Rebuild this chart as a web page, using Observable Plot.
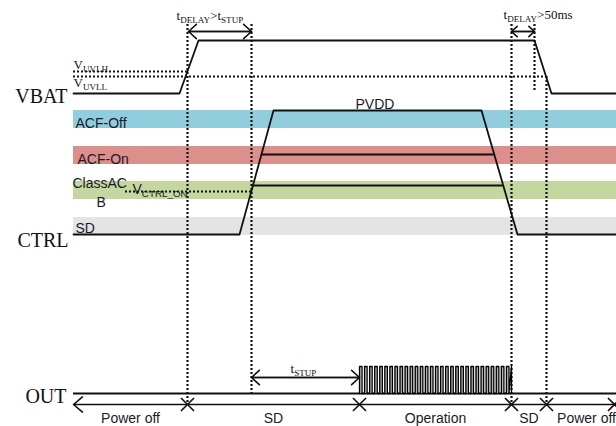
<!DOCTYPE html>
<html><head><meta charset="utf-8">
<script src="https://cdn.jsdelivr.net/npm/d3@7"></script>
<script src="https://cdn.jsdelivr.net/npm/@observablehq/plot@0.6"></script>
<style>html,body{margin:0;padding:0;background:#fff}svg{display:block}</style>
</head><body><div id="chart"></div>
<script>
// ---- diagram data (time axis = horizontal, level = vertical, top-down) ----
const tStart = 73, tEnd = 616;
const vbatTime  = [73, 179, 198, 534, 551, 616];
const vbatLevel = [93, 93, 40, 40, 93, 93];
const ctrlTime  = [73, 239, 273, 481, 517, 616];
const ctrlLevel = [234, 234, 110, 110, 234, 234];

const bandNames  = ["ACF-Off", "ACF-On", "ClassAB", "SD"];
const bandTop    = [110, 146, 181, 217];
const bandBottom = [128, 164, 199, 235];
const modeLevels = [154, 185];            // ACF-On, ClassAB output levels on CTRL

const vUVLH = 71, vUVLL = 76, vCtrlOn = 191;
const eventTime = [187, 251, 511, 534, 546];
const eventFrom = [24, 24, 24, 24, 76];
const eventTo   = [404, 393, 404, 92, 404];

const outHigh = 366, outLow = 393, outAxis = 404;
const pulseStart = 359, pulseEnd = 511, pulseCount = 30;
const stateNames = ["Power off", "SD", "Operation", "SD", "Power off"];
const stateBounds = [73, 187, 359, 511, 546, 626];
const crossTimes = [187, 359, 511, 546, 614];

const spanFrom = [188, 511, 251];
const spanTo   = [251, 534, 359];
const spanAt   = [31, 31, 377];

// ---- styles ----
const bandColors = ["#92cddd", "#dc8f8b", "#c3d79f", "#e4e4e4"];
const serif = "Liberation Serif, Times New Roman, serif";
const sans = "Liberation Sans, Arial, sans-serif";

// ---- derived tables ----
const vbat = vbatTime.map((t, i) => ({t, v: vbatLevel[i]}));
const ctrl = ctrlTime.map((t, i) => ({t, v: ctrlLevel[i]}));
const bands = bandNames.map((name, i) => ({name, top: bandTop[i], bottom: bandBottom[i], color: bandColors[i]}));
const lerp = (a, b, fa, fb, f) => a + (b - a) * (f - fa) / (fb - fa);
const modes = modeLevels.map(v => ({
  v,
  t1: lerp(ctrlTime[1], ctrlTime[2], ctrlLevel[1], ctrlLevel[2], v),
  t2: lerp(ctrlTime[3], ctrlTime[4], ctrlLevel[3], ctrlLevel[4], v)
}));
const events = eventTime.map((t, i) => ({t, y1: eventFrom[i], y2: eventTo[i]}));
const period = (pulseEnd - pulseStart) / pulseCount;
const pulses = d3.range(pulseCount).map(i => ({a: pulseStart + i * period, b: pulseStart + (i + 0.5) * period}));
const wave = [{t: pulseStart, v: outLow}];
pulses.forEach(p => { wave.push({t: p.a, v: outHigh}, {t: p.b, v: outHigh}, {t: p.b, v: outLow}, {t: p.b + period / 2, v: outLow}); });
wave.forEach(w => { if (w.t > pulseEnd) w.t = pulseEnd; });
const wave2 = wave.slice(0, -1).concat([{t: pulseEnd, v: outHigh}, {t: pulseEnd, v: outLow}]);
const states = stateNames.map((name, i) => ({name, t: (stateBounds[i] + stateBounds[i + 1]) / 2}));
const spans = spanFrom.map((a, i) => ({a, b: spanTo[i], y: spanAt[i]}));

const bigLabels = [
  {text: "VBAT", x: 67, y: 102},
  {text: "CTRL", x: 68, y: 246},
  {text: "OUT", x: 66, y: 402}
];
const noteLabels = [
  {text: "t{DELAY}>t{STUP}", x: 176, y: 19},
  {text: "t{DELAY}>50ms", x: 503, y: 18},
  {text: "V{UVLH}", x: 73, y: 68},
  {text: "V{UVLL}", x: 73, y: 86},
  {text: "t{STUP}", x: 290, y: 372}
];
const bandLabels = [
  {text: "ACF-Off", x: 75, y: 127},
  {text: "ACF-On", x: 77, y: 163},
  {text: "ClassAC", x: 72, y: 187},
  {text: "B", x: 96, y: 206},
  {text: "V{CTRL_ON}", x: 132, y: 193},
  {text: "SD", x: 75, y: 232},
  {text: "PVDD", x: 355, y: 108}
];

const dash = "2,2";
const chart = Plot.plot({
  width: 616, height: 426,
  margin: 0,
  x: {domain: [0, 616], range: [0, 616], axis: null},
  y: {domain: [0, 426], range: [0, 426], axis: null},
  color: {type: "identity"},
  marks: [
    Plot.rect(bands, {x1: () => tStart, x2: () => tEnd, y1: "top", y2: "bottom", fill: "color"}),
    // thresholds
    Plot.ruleY([vUVLH], {x1: tStart, x2: eventTime[0], stroke: "#111", strokeWidth: 2, strokeDasharray: dash}),
    Plot.ruleY([vUVLL], {x1: tStart, x2: eventTime[4], stroke: "#111", strokeWidth: 2, strokeDasharray: dash}),
    Plot.ruleY([vCtrlOn], {x1: 125, x2: eventTime[1], stroke: "#111", strokeWidth: 2, strokeDasharray: dash}),
    // event markers
    Plot.ruleX(events, {x: "t", y1: "y1", y2: "y2", stroke: "#111", strokeWidth: 2.2, strokeDasharray: dash}),
    // signals
    Plot.line(vbat, {x: "t", y: "v", stroke: "#111", strokeWidth: 1.8}),
    Plot.line(ctrl, {x: "t", y: "v", stroke: "#111", strokeWidth: 1.8}),
    Plot.ruleY(modes, {y: "v", x1: "t1", x2: "t2", stroke: "#111", strokeWidth: 1.8}),
    // OUT
    Plot.ruleY([outLow], {x1: tStart, x2: tEnd, stroke: "#111", strokeWidth: 1.8}),
    Plot.rect(pulses, {x1: "a", x2: "b", y1: () => outHigh, y2: () => outLow, fill: "#b4b4b4"}),
    Plot.line(wave2, {x: "t", y: "v", stroke: "#000", strokeWidth: 1.3}),
    Plot.arrow([0], {x1: tEnd, x2: tStart, y1: outAxis, y2: outAxis, stroke: "#111", strokeWidth: 1.6, headLength: 11, headAngle: 80}),
    Plot.arrow(spans, {x1: "a", x2: "b", y1: "y", y2: "y", stroke: "#111", strokeWidth: 1.6, headLength: 10, headAngle: 85}),
    Plot.arrow(spans, {x1: "b", x2: "a", y1: "y", y2: "y", stroke: "#111", strokeWidth: 1.6, headLength: 10, headAngle: 85}),
    Plot.dot(crossTimes, {x: d => d, y: () => outAxis, symbol: "times", r: 6, stroke: "#111", strokeWidth: 1.6}),
    // labels
    Plot.text(bigLabels, {x: "x", y: "y", text: "text", textAnchor: "end", lineAnchor: "bottom", fontFamily: serif, fontSize: 20, fill: "#111"}),
    Plot.text(noteLabels, {x: "x", y: "y", text: "text", textAnchor: "start", lineAnchor: "bottom", fontFamily: serif, fontSize: 13, fill: "#111"}),
    Plot.text(bandLabels, {x: "x", y: "y", text: "text", textAnchor: "start", lineAnchor: "bottom", fontFamily: sans, fontSize: 14, fill: "#1a1a2a"}),
    Plot.text(states, {x: "t", y: () => 422, text: "name", textAnchor: "middle", lineAnchor: "bottom", fontFamily: sans, fontSize: 14, fill: "#1a1a2a"})
  ]
});

// turn "a{sub}" notation into real subscripts
d3.select(chart).selectAll("text").each(function () {
  const s = this.textContent;
  if (!s.includes("{")) return;
  const el = d3.select(this);
  el.text(null);
  let sub = false;
  for (const p of s.split(/(\{[^}]*\})/).filter(p => p)) {
    if (p.startsWith("{")) {
      el.append("tspan").attr("font-size", "0.7em").attr("dy", 3).text(p.slice(1, -1));
      sub = true;
    } else {
      el.append("tspan").attr("dy", sub ? -3 : null).text(p);
      sub = false;
    }
  }
});
document.getElementById("chart").append(chart);
</script>
</body></html>
